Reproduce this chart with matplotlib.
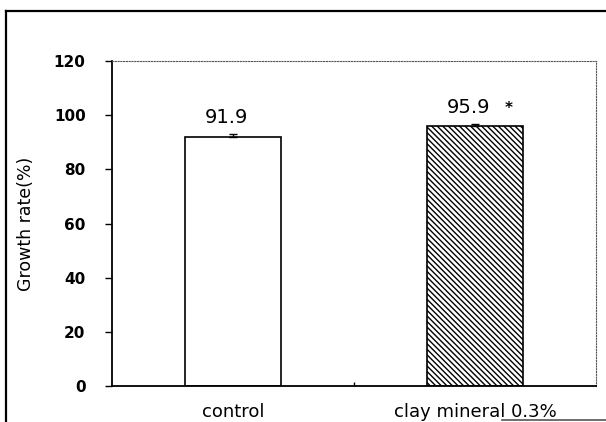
import matplotlib
matplotlib.use("Agg")
import matplotlib.pyplot as plt
from matplotlib.lines import Line2D

categories = ["control", "clay mineral 0.3%"]
values = [91.9, 95.9]
errors = [1.0, 0.8]
marks = ["", "*"]
yticks = [0, 20, 40, 60, 80, 100, 120]

plt.rcParams['hatch.linewidth'] = 1.0
plt.rcParams['font.family'] = ['DejaVu Sans']

fig = plt.figure(figsize=(6.06, 4.22), dpi=100)
ax = fig.add_axes([112/606, 36/422, 484/606, 325/422])

x = list(range(len(categories)))
faces = ["white", "white"]
hatches = [None, "\\" * 6]
for xi, v, e, fc, h in zip(x, values, errors, faces, hatches):
    ax.bar(xi, v, width=0.40, color=fc, edgecolor="black", linewidth=1.2,
           hatch=h, zorder=2)
    ax.errorbar(xi, v, yerr=[[0], [e]], fmt="none", ecolor="black",
                elinewidth=1.0, capsize=3, capthick=1.0, zorder=3)

for xi, v, e, m in zip(x, values, errors, marks):
    ax.annotate(f"{v:.1f}", (xi, v), xytext=(-5, 7), textcoords="offset points",
                ha="center", va="bottom", fontsize=14)
    if m:
        ax.annotate(m, (xi, v), xytext=(24, 13), textcoords="offset points",
                    ha="center", va="center", fontsize=11, fontweight="bold")

ax.set_xlim(-0.5, 1.5)
ax.set_ylim(0, 120)
ax.set_yticks(yticks)
ax.set_yticklabels([str(t) for t in yticks], fontsize=11, fontweight="bold")
ax.set_xticks(x)
ax.set_xticklabels(categories, fontsize=13)
ax.set_xticks([0.5], minor=True)
ax.tick_params(axis="x", which="major", length=0, pad=12)
ax.tick_params(axis="x", which="minor", length=3, direction="in", width=1)
ax.tick_params(axis="y", length=5, width=1, pad=14, direction="out")

ax.set_ylabel("Growth rate(%)", fontsize=12.5)
ax.yaxis.set_label_coords(-0.159, 0.5)

for s in ["left", "bottom"]:
    ax.spines[s].set_color("black")
    ax.spines[s].set_linewidth(1.3)
for s in ["top", "right"]:
    ax.spines[s].set_color("#555555")
    ax.spines[s].set_linewidth(0.8)
    ax.spines[s].set_linestyle((0, (1, 1.5)))

# outer frame
fig.add_artist(Line2D([6/606, 6/606], [0, 1 - 11/422], transform=fig.transFigure,
                      color="black", linewidth=1.6))
fig.add_artist(Line2D([6/606, 1], [1 - 11/422, 1 - 11/422], transform=fig.transFigure,
                      color="black", linewidth=1.6))
fig.add_artist(Line2D([502/606, 1], [1 - 420/422, 1 - 420/422], transform=fig.transFigure,
                      color="#555555", linewidth=1.2))

fig.savefig("out.png", dpi=100)
